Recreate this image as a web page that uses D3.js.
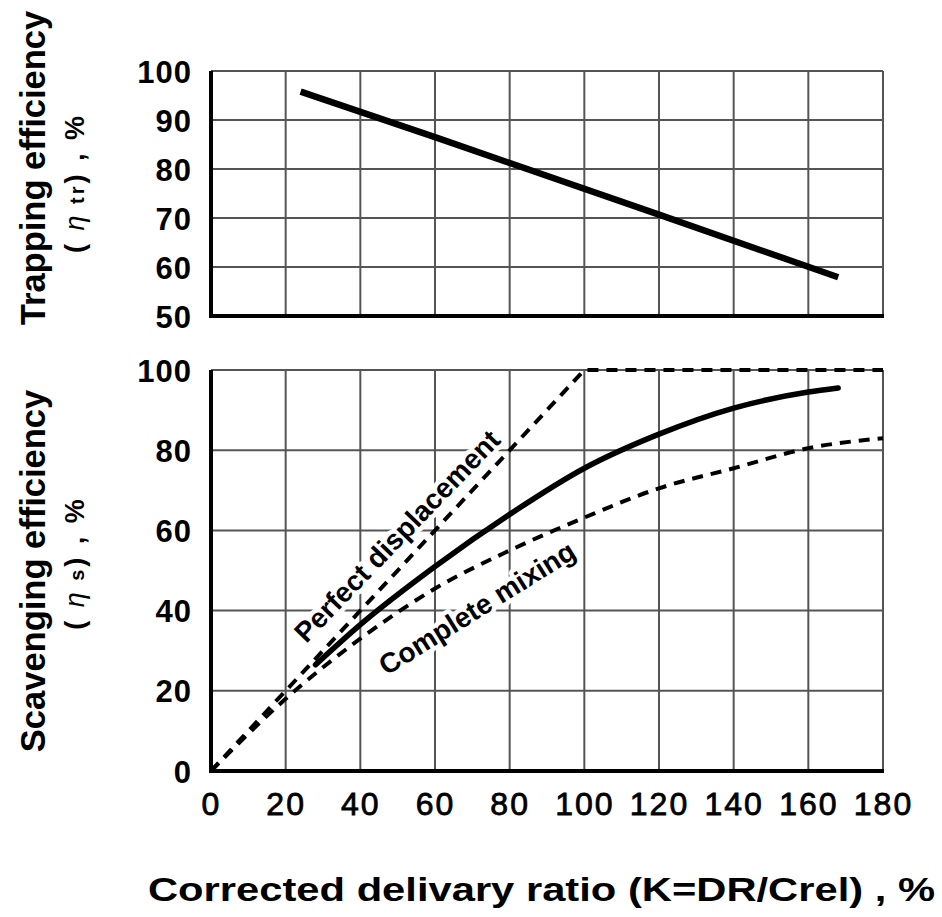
<!DOCTYPE html>
<html>
<head>
<meta charset="utf-8">
<script src="https://cdn.jsdelivr.net/npm/d3@7"></script>
<style>
  body { margin: 0; background: #fff; }
  svg text { font-family: "Liberation Sans", Arial, Helvetica, sans-serif; fill: #000; }
</style>
</head>
<body>
<div id="chart"></div>
<script>
// x axis (shared)
var xTicks = [0, 20, 40, 60, 80, 100, 120, 140, 160, 180];

// top panel: trapping efficiency
var trapTicks = [50, 60, 70, 80, 90, 100];
var trapK = [24, 60, 120, 168];
var trapEff = [95.8, 86.5, 70.7, 57.9];

// bottom panel: scavenging efficiency
var scavTicks = [0, 20, 40, 60, 80, 100];
var scavK = [28, 40, 60, 80, 100, 120, 140, 160, 168];
var scavEff = [26.5, 36.5, 51, 64, 75.5, 84, 90.5, 94.5, 95.5];

var dispK = [0, 100, 180];
var dispEff = [0, 100, 100];

var mixK = [0, 20, 40, 60, 80, 100, 120, 140, 160, 180];
var mixEff = [0, 18, 33, 45.5, 55, 63.2, 70.5, 75.5, 80.5, 83];

var width = 942,
    height = 917;

var svg = d3.select('#chart').append('svg')
    .attr('width', width)
    .attr('height', height);

var x = d3.scaleLinear().domain([0, 180]).range([211, 883]);
var yTop = d3.scaleLinear().domain([50, 100]).range([316, 71]);
var yBot = d3.scaleLinear().domain([0, 100]).range([771, 370]);

function zip(a, b) {
    return a.map(function (d, i) { return [d, b[i]]; });
}

function panel(y, ticks) {
    var g = svg.append('g');
    var y0 = y.range()[0], y1 = y.range()[1];

    // grid
    g.selectAll('.vgrid').data(xTicks.slice(1))
        .enter().append('line')
        .attr('x1', x).attr('x2', x)
        .attr('y1', y0).attr('y2', y1)
        .attr('stroke', '#555').attr('stroke-width', 2);
    g.selectAll('.hgrid').data(ticks.slice(1))
        .enter().append('line')
        .attr('x1', x(0)).attr('x2', x(180))
        .attr('y1', y).attr('y2', y)
        .attr('stroke', '#555').attr('stroke-width', 2);

    // left + bottom axes, heavy
    g.append('line').attr('x1', x(0)).attr('x2', x(0))
        .attr('y1', y0 + 2).attr('y2', y1)
        .attr('stroke', '#000').attr('stroke-width', 4);
    g.append('line').attr('x1', x(0)).attr('x2', x(180) + 1)
        .attr('y1', y0).attr('y2', y0)
        .attr('stroke', '#000').attr('stroke-width', 4);

    var yAxis = d3.axisLeft(y).tickValues(ticks).tickSize(0).tickPadding(19);
    var ax = g.append('g').attr('transform', 'translate(' + x(0) + ',0)').call(yAxis);
    ax.select('.domain').remove();
    ax.selectAll('text')
        .style('font-size', '31px')
        .style('font-weight', 'bold')
        .style('letter-spacing', '1px')
        .attr('dy', '0.36em');
    return g;
}

var gTop = panel(yTop, trapTicks);
var gBot = panel(yBot, scavTicks);

// x tick labels under bottom panel
var xAxis = d3.axisBottom(x).tickValues(xTicks).tickSize(0).tickPadding(21);
var xa = svg.append('g').attr('transform', 'translate(0,' + yBot(0) + ')').call(xAxis);
xa.select('.domain').remove();
xa.selectAll('text')
    .style('font-size', '32px')
    .style('letter-spacing', '2px')
    .style('stroke', '#000')
    .style('stroke-width', 0.8);

// curve labels with white halo
function label(txt, cx, cy, angle) {
    svg.append('text')
        .attr('transform', 'translate(' + cx + ',' + cy + ') rotate(' + angle + ')')
        .attr('text-anchor', 'middle')
        .attr('dy', '0.35em')
        .style('font-size', '28px')
        .style('font-weight', 'bold')
        .style('stroke', '#fff')
        .style('stroke-width', 9)
        .style('stroke-linejoin', 'round')
        .style('paint-order', 'stroke')
        .text(txt);
}
label('Perfect displacement', 397, 536, -46);
label('Complete mixing', 477, 608, -32);

var line = function (y) {
    return d3.line().x(function (d) { return x(d[0]); }).y(function (d) { return y(d[1]); });
};

svg.append('path')
    .datum(zip(trapK, trapEff))
    .attr('d', line(yTop))
    .attr('fill', 'none').attr('stroke', '#000').attr('stroke-width', 6.5);

svg.append('path')
    .datum(zip(dispK, dispEff))
    .attr('d', line(yBot))
    .attr('fill', 'none').attr('stroke', '#000').attr('stroke-width', 4)
    .attr('stroke-dasharray', '11,8');

svg.append('path')
    .datum(zip(mixK, mixEff))
    .attr('d', line(yBot).curve(d3.curveMonotoneX))
    .attr('fill', 'none').attr('stroke', '#000').attr('stroke-width', 4)
    .attr('stroke-dasharray', '11,8');

svg.append('path')
    .datum(zip(scavK, scavEff))
    .attr('d', line(yBot).curve(d3.curveMonotoneX))
    .attr('fill', 'none').attr('stroke', '#000').attr('stroke-width', 5.5)
    .attr('stroke-linecap', 'round');

// axis titles (rotated, two lines)
function yTitle(main, sub, c1, c2) {
    svg.append('text')
        .attr('transform', 'translate(45,' + c1 + ') rotate(-90)')
        .attr('text-anchor', 'middle')
        .style('font-weight', 'bold')
        .style('font-size', '34.5px')
        .text(main);
    var t = svg.append('text')
        .attr('transform', 'translate(84,' + c2 + ') rotate(-90)')
        .attr('text-anchor', 'middle')
        .style('font-weight', 'bold')
        .style('font-size', '27px')
        .style('letter-spacing', '3px');
    t.append('tspan').text('( ');
    t.append('tspan').style('font-style', 'italic').style('font-weight', 'normal').text('η');
    t.append('tspan').style('font-size', '20px').text(' ' + sub);
    t.append('tspan').text(') ,  %');
}
yTitle('Trapping efficiency', 'tr', 168, 183);
yTitle('Scavenging efficiency', 's', 571, 563);

svg.append('text')
    .attr('x', 148).attr('y', 901)
    .attr('textLength', 787)
    .attr('lengthAdjust', 'spacingAndGlyphs')
    .style('font-size', '33px')
    .style('font-weight', 'bold')
    .text('Corrected delivary ratio (K=DR/Crel) ,  %');
</script>
</body>
</html>
